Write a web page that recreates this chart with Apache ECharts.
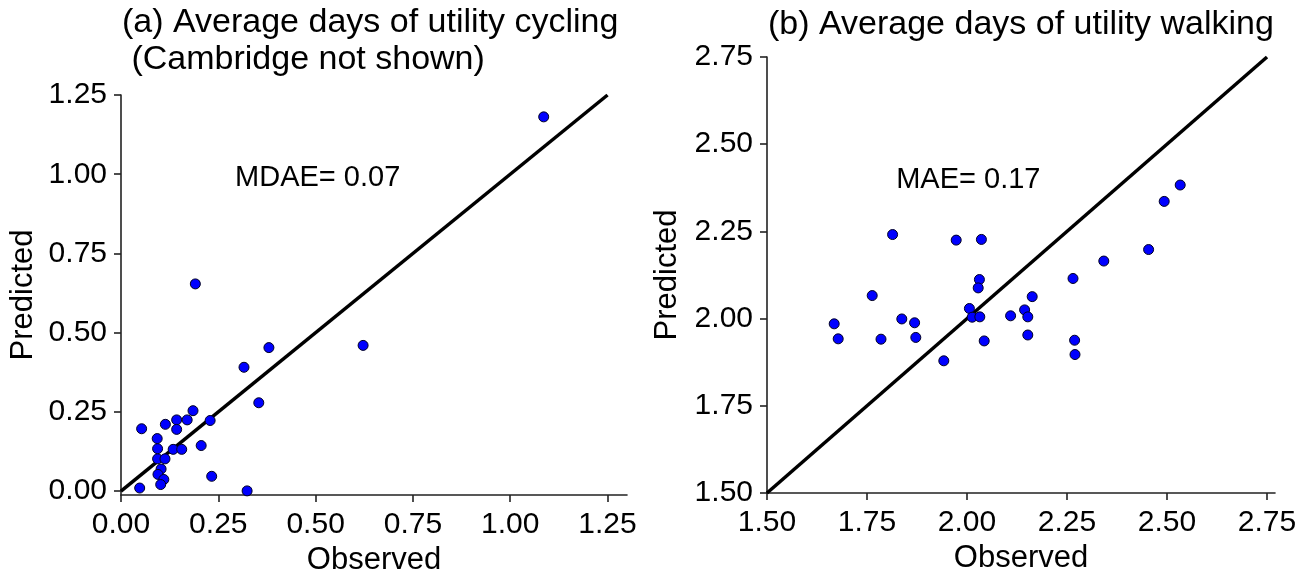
<!DOCTYPE html>
<html>
<head>
<meta charset="utf-8">
<script src="https://cdn.jsdelivr.net/npm/echarts@6/dist/echarts.min.js"></script>
<style>
  html, body { margin: 0; padding: 0; background: #fff; }
  #chart { width: 1310px; height: 571px; }
</style>
</head>
<body>
<div id="chart"></div>
<script>
// panel (a) - utility cycling
var cyclingObserved  = [1.086, 0.191, 0.380, 0.622, 0.316, 0.354, 0.185, 0.143, 0.170, 0.229, 0.114, 0.053, 0.143, 0.093,
                        0.094, 0.134, 0.156, 0.206, 0.094, 0.113, 0.103, 0.095, 0.110, 0.102, 0.233, 0.048, 0.324]
var cyclingPredicted = [1.181, 0.654, 0.453, 0.460, 0.391, 0.279, 0.254, 0.225, 0.225, 0.223, 0.211, 0.197, 0.195, 0.166,
                        0.134, 0.132, 0.132, 0.144, 0.102, 0.102, 0.070, 0.053, 0.037, 0.021, 0.047, 0.010, 0.001]
// panel (b) - utility walking
var walkingObserved  = [1.668, 1.678, 1.763, 1.814, 1.785, 1.837, 1.869, 1.872, 1.942, 1.973, 2.036, 2.031, 2.028, 2.006, 2.013,
                        2.032, 2.043, 2.109, 2.144, 2.152, 2.163, 2.152, 2.265, 2.269, 2.270, 2.342, 2.454, 2.493, 2.533]
var walkingPredicted = [1.985, 1.942, 2.066, 2.241, 1.941, 1.999, 1.988, 1.946, 1.879, 2.225, 2.227, 2.112, 2.088, 2.029, 2.004,
                        2.005, 1.936, 2.008, 2.025, 2.005, 2.063, 1.953, 2.115, 1.938, 1.897, 2.165, 2.198, 2.336, 2.383]

var cyclingTicks = [0, 0.25, 0.5, 0.75, 1, 1.25]
var walkingTicks = [1.5, 1.75, 2, 2.25, 2.5, 2.75]
var cyclingLine = [0, 1.25]
var walkingLine = [1.5, 2.75]
var cyclingNote = { x: 0.293, y: 0.988, text: 'MDAE= 0.07' }
var walkingNote = { x: 1.823, y: 2.397, text: 'MAE= 0.17' }

var FONT = "'Liberation Sans', Arial, sans-serif"

function pairs(xs, ys) {
  return xs.map(function (x, i) { return [x, ys[i]] })
}

function valueAxis(idx, min, max, ticks, name, gap, isY) {
  return {
    type: 'value',
    gridIndex: idx,
    min: min,
    max: max,
    name: name,
    nameLocation: 'middle',
    nameGap: gap,
    nameTextStyle: { fontFamily: FONT, fontSize: 31, color: '#000' },
    axisLine: { show: true, onZero: false, lineStyle: { color: '#222', width: 1.6 } },
    axisTick: { show: true, length: 7, customValues: ticks, lineStyle: { color: '#222', width: 1.6 } },
    axisLabel: {
      customValues: ticks,
      margin: isY ? 14 : 15,
      fontFamily: FONT,
      fontSize: 30,
      color: '#000',
      formatter: function (v) { return v.toFixed(2) }
    },
    splitLine: { show: false }
  }
}

function dots(idx, data) {
  return {
    type: 'scatter',
    xAxisIndex: idx,
    yAxisIndex: idx,
    data: data,
    symbolSize: 10,
    z: 5,
    itemStyle: { color: '#0000ff', opacity: 1, borderColor: '#000022', borderWidth: 1 }
  }
}

function diag(idx, ends) {
  return {
    type: 'line',
    xAxisIndex: idx,
    yAxisIndex: idx,
    data: [[ends[0], ends[0]], [ends[1], ends[1]]],
    showSymbol: false,
    symbol: 'none',
    z: 3,
    lineStyle: { color: '#000', width: 3.5 }
  }
}

function note(idx, n) {
  return {
    type: 'scatter',
    xAxisIndex: idx,
    yAxisIndex: idx,
    data: [[n.x, n.y]],
    symbolSize: 0,
    silent: true,
    itemStyle: { opacity: 1 },
    label: {
      show: true,
      position: 'right',
      distance: 0,
      formatter: n.text,
      fontFamily: FONT,
      fontSize: 29,
      color: '#000',
      opacity: 1
    }
  }
}

var chart = echarts.init(document.getElementById('chart'), null, { renderer: 'canvas' })

chart.setOption({
  backgroundColor: '#fff',
  animation: false,
  title: [
    {
      text: '(a) Average days of utility cycling\n (Cambridge not shown)',
      left: 122, top: 4, padding: 0,
      textStyle: { fontFamily: FONT, fontSize: 34, fontWeight: 'normal', color: '#000', lineHeight: 37 }
    },
    {
      text: '(b) Average days of utility walking',
      left: 768, top: 6, padding: 0,
      textStyle: { fontFamily: FONT, fontSize: 34, fontWeight: 'normal', color: '#000', lineHeight: 37 }
    }
  ],
  grid: [
    { left: 121, top: 95, width: 506, height: 400, outerBoundsMode: 'none' },
    { left: 767, top: 57, width: 508, height: 436, outerBoundsMode: 'none' }
  ],
  xAxis: [
    valueAxis(0, 0, 1.30, cyclingTicks, 'Observed', 48, false),
    valueAxis(1, 1.5, 2.77, walkingTicks, 'Observed', 48, false)
  ],
  yAxis: [
    valueAxis(0, -0.012, 1.25, cyclingTicks, 'Predicted', 82, true),
    valueAxis(1, 1.5, 2.75, walkingTicks, 'Predicted', 84, true)
  ],
  series: [
    diag(0, cyclingLine),
    dots(0, pairs(cyclingObserved, cyclingPredicted)),
    note(0, cyclingNote),
    diag(1, walkingLine),
    dots(1, pairs(walkingObserved, walkingPredicted)),
    note(1, walkingNote)
  ]
})
</script>
</body>
</html>
